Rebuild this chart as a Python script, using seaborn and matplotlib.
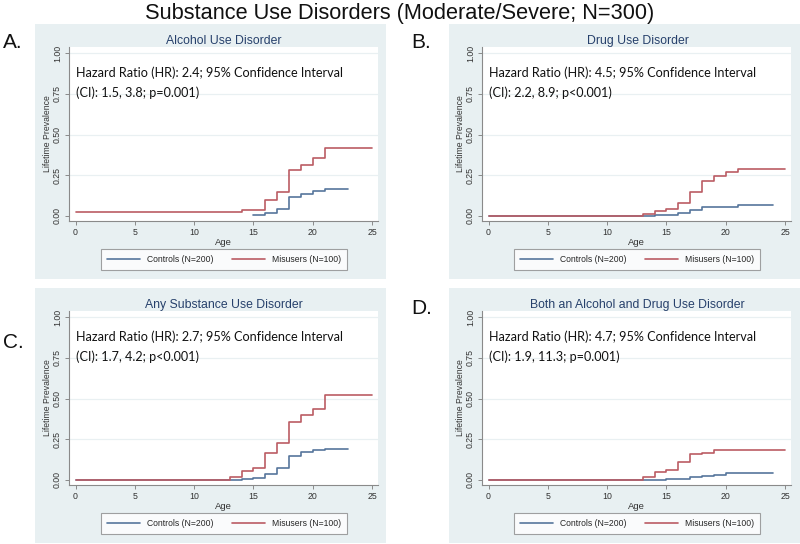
import matplotlib
matplotlib.use("Agg")
import matplotlib.pyplot as plt
from matplotlib.patches import Rectangle
from matplotlib.lines import Line2D
import seaborn as sns
import pandas as pd

# ---------------- data ----------------
main_title = "Substance Use Disorders (Moderate/Severe; N=300)"
panel_letters = ["A.", "B.", "C.", "D."]
panel_titles = ["Alcohol Use Disorder", "Drug Use Disorder",
                "Any Substance Use Disorder", "Both an Alcohol and Drug Use Disorder"]
hr_line1 = [
    "Hazard Ratio (HR): 2.4; 95% Confidence Interval",
    "Hazard Ratio (HR): 4.5; 95% Confidence Interval",
    "Hazard Ratio (HR): 2.7; 95% Confidence Interval",
    "Hazard Ratio (HR): 4.7; 95% Confidence Interval",
]
hr_line2 = [
    "(CI): 1.5, 3.8; p=0.001)",
    "(CI): 2.2, 8.9; p<0.001)",
    "(CI): 1.7, 4.2; p<0.001)",
    "(CI): 1.9, 11.3; p=0.001)",
]
groups = ["Controls (N=200)", "Misusers (N=100)"]
x_ticks = [0, 5, 10, 15, 20, 25]
y_ticks = [0.00, 0.25, 0.50, 0.75, 1.00]
y_ticklabels = ["0.00", "0.25", "0.50", "0.75", "1.00"]

A_ctrl_age = [15, 16, 17, 18, 19, 20, 21, 23]
A_ctrl_prev = [0.004, 0.016, 0.043, 0.115, 0.136, 0.156, 0.167, 0.167]
A_mis_age = [0, 14, 15, 16, 17, 18, 19, 20, 21, 25]
A_mis_prev = [0.023, 0.035, 0.037, 0.099, 0.150, 0.280, 0.315, 0.354, 0.420, 0.420]

B_ctrl_age = [0, 13, 14, 15, 16, 17, 18, 21, 24]
B_ctrl_prev = [0.0, 0.0, 0.003, 0.006, 0.020, 0.039, 0.056, 0.068, 0.068]
B_mis_age = [0, 13, 14, 15, 16, 17, 18, 19, 20, 21, 25]
B_mis_prev = [0.0, 0.010, 0.033, 0.043, 0.082, 0.150, 0.212, 0.245, 0.267, 0.288, 0.288]

C_ctrl_age = [0, 13, 14, 15, 16, 17, 18, 19, 20, 21, 23]
C_ctrl_prev = [0.0, 0.002, 0.006, 0.010, 0.035, 0.072, 0.147, 0.170, 0.182, 0.192, 0.192]
C_mis_age = [0, 13, 14, 15, 16, 17, 18, 19, 20, 21, 25]
C_mis_prev = [0.0, 0.020, 0.055, 0.072, 0.164, 0.225, 0.354, 0.397, 0.436, 0.523, 0.523]

D_ctrl_age = [0, 13, 15, 16, 17, 18, 19, 20, 24]
D_ctrl_prev = [0.0, 0.002, 0.004, 0.008, 0.020, 0.027, 0.031, 0.041, 0.041]
D_mis_age = [0, 13, 14, 15, 16, 17, 18, 19, 25]
D_mis_prev = [0.0, 0.016, 0.051, 0.063, 0.112, 0.157, 0.166, 0.186, 0.186]

series = [
    (A_ctrl_age, A_ctrl_prev, A_mis_age, A_mis_prev),
    (B_ctrl_age, B_ctrl_prev, B_mis_age, B_mis_prev),
    (C_ctrl_age, C_ctrl_prev, C_mis_age, C_mis_prev),
    (D_ctrl_age, D_ctrl_prev, D_mis_age, D_mis_prev),
]

# ---------------- styling ----------------
sns.set_theme(style="white")
plt.rcParams["font.family"] = ["Liberation Sans", "DejaVu Sans"]

W, H = 800, 544
BG = "#e8f0f2"
GRID = "#e9f0f2"
NAVY = "#26406b"
COL_CTRL = "#56769c"
COL_MIS = "#bb5c64"
palette = {groups[0]: COL_CTRL, groups[1]: COL_MIS}

fig = plt.figure(figsize=(W / 100, H / 100), dpi=100)
fig.patch.set_facecolor("white")


def fx(x):
    return x / W


def fy(y):
    return 1 - y / H


# panel geometry in pixels: (bg_left, bg_top, ax_left, ax_right, ax_top, ax_bottom, letter_x, letter_y)
panels = [
    (35, 24, 69, 378, 47, 221, 3, 43),
    (449, 24, 482, 791, 47, 221, 411, 43),
    (35, 288, 69, 378, 311, 485, 3, 342),
    (449, 288, 482, 791, 311, 485, 411, 308),
]
BG_W, BG_H = 351, 255

fig.text(0.5, fy(13), main_title, ha="center", va="center", fontsize=15.7, color="#111111")

for i, (bl, bt, al, ar, at, ab, lx, ly) in enumerate(panels):
    fig.patches.append(Rectangle((fx(bl), fy(bt + BG_H)), BG_W / W, BG_H / H,
                                 transform=fig.transFigure, facecolor=BG, edgecolor="none",
                                 zorder=-10))
    fig.text(fx(lx), fy(ly), panel_letters[i], ha="left", va="center", fontsize=15, color="#111111")
    fig.text(fx(bl + BG_W / 2 + 13), fy(bt + 17), panel_titles[i], ha="center", va="center",
             fontsize=8.8, color=NAVY)

    ax = fig.add_axes([fx(al), fy(ab), (ar - al) / W, (ab - at) / H])
    ax.set_facecolor("white")

    c_age, c_prev, m_age, m_prev = series[i]
    df = pd.DataFrame({
        "Age": list(c_age) + list(m_age),
        "Prevalence": list(c_prev) + list(m_prev),
        "Group": [groups[0]] * len(c_age) + [groups[1]] * len(m_age),
    })
    sns.lineplot(data=df, x="Age", y="Prevalence", hue="Group", palette=palette,
                 estimator=None, sort=False, drawstyle="steps-post", linewidth=1.2,
                 ax=ax, legend=False, zorder=3)

    ax.set_xlim(-0.55, 25.5)
    ax.set_ylim(-0.031, 1.038)
    ax.set_xticks(x_ticks)
    ax.set_yticks(y_ticks)
    ax.set_yticklabels(y_ticklabels, rotation=90, va="center")
    for yv in y_ticks[1:]:
        ax.axhline(yv, color=GRID, lw=0.9, zorder=1)
    for s in ["top", "right"]:
        ax.spines[s].set_visible(False)
    for s in ["left", "bottom"]:
        ax.spines[s].set_color("#8a8a8a")
        ax.spines[s].set_linewidth(0.8)
    ax.tick_params(axis="both", direction="out", length=3, width=0.7, color="#8a8a8a",
                   labelsize=6.3, labelcolor="#333333", pad=2, left=True, bottom=True)
    ax.set_xlabel("Age", fontsize=6.8, color="#333333", labelpad=1)
    ax.set_ylabel("Lifetime Prevalence", fontsize=6.2, color="#333333", labelpad=0.5)

    ax.text(0.0, 0.877, hr_line1[i], ha="left", va="center",
            fontsize=9.1, family=["Lato", "DejaVu Sans"], color="#111111")
    ax.text(0.0, 0.76, hr_line2[i], ha="left", va="center",
            fontsize=9.1, family=["Lato", "DejaVu Sans"], color="#111111")

    handles = [Line2D([], [], color=COL_CTRL, lw=1.2), Line2D([], [], color=COL_MIS, lw=1.2)]
    cx = (al + ar) / 2 + 0.5
    cy = ab + 38.5
    leg = ax.legend(handles, groups, loc="center", bbox_to_anchor=(fx(cx), fy(cy)),
                    bbox_transform=fig.transFigure, ncol=2, fontsize=6.2, frameon=True,
                    fancybox=False, edgecolor="#8a8a8a", facecolor="white",
                    handlelength=3.9, handletextpad=0.8, columnspacing=2.1,
                    borderpad=0.7, borderaxespad=0)
    leg.get_frame().set_linewidth(0.8)

fig.savefig("out.png", dpi=100, facecolor="white")
